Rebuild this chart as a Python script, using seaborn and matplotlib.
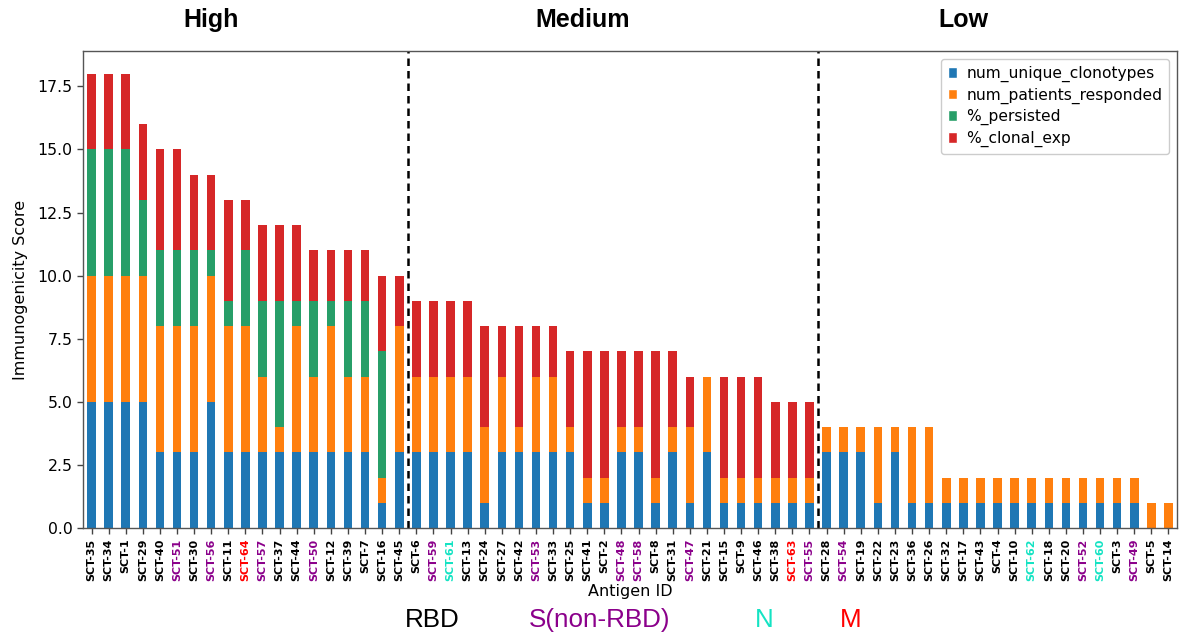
import numpy as np
import pandas as pd
import matplotlib
matplotlib.use("Agg")
import matplotlib.pyplot as plt
import seaborn as sns
from matplotlib.patches import Patch

antigen_ids = [
    "SCT-35", "SCT-34", "SCT-1", "SCT-29", "SCT-40", "SCT-51", "SCT-30", "SCT-56", "SCT-11", "SCT-64",
    "SCT-57", "SCT-37", "SCT-44", "SCT-50", "SCT-12", "SCT-39", "SCT-7", "SCT-16", "SCT-45",
    "SCT-6", "SCT-59", "SCT-61", "SCT-13", "SCT-24", "SCT-27", "SCT-42", "SCT-53", "SCT-33", "SCT-25",
    "SCT-41", "SCT-2", "SCT-48", "SCT-58", "SCT-8", "SCT-31", "SCT-47", "SCT-21", "SCT-15", "SCT-9",
    "SCT-46", "SCT-38", "SCT-63", "SCT-55",
    "SCT-28", "SCT-54", "SCT-19", "SCT-22", "SCT-23", "SCT-36", "SCT-26", "SCT-32", "SCT-17", "SCT-43",
    "SCT-4", "SCT-10", "SCT-62", "SCT-18", "SCT-20", "SCT-52", "SCT-60", "SCT-3", "SCT-49", "SCT-5", "SCT-14",
]

num_unique_clonotypes = [
    5, 5, 5, 5, 3, 3, 3, 5, 3, 3, 3, 3, 3, 3, 3, 3, 3, 1, 3,
    3, 3, 3, 3, 1, 3, 3, 3, 3, 3, 1, 1, 3, 3, 1, 3, 1, 3, 1, 1, 1, 1, 1, 1,
    3, 3, 3, 1, 3, 1, 1, 1, 1, 1, 1, 1, 1, 1, 1, 1, 1, 1, 1, 0, 0,
]
num_patients_responded = [
    5, 5, 5, 5, 5, 5, 5, 5, 5, 5, 3, 1, 5, 3, 5, 3, 3, 1, 5,
    3, 3, 3, 3, 3, 3, 1, 3, 3, 1, 1, 1, 1, 1, 1, 1, 3, 3, 1, 1, 1, 1, 1, 1,
    1, 1, 1, 3, 1, 3, 3, 1, 1, 1, 1, 1, 1, 1, 1, 1, 1, 1, 1, 1, 1,
]
pct_persisted = [
    5, 5, 5, 3, 3, 3, 3, 1, 1, 3, 3, 5, 1, 3, 1, 3, 3, 5, 0,
    0, 0, 0, 0, 0, 0, 0, 0, 0, 0, 0, 0, 0, 0, 0, 0, 0, 0, 0, 0, 0, 0, 0, 0,
    0, 0, 0, 0, 0, 0, 0, 0, 0, 0, 0, 0, 0, 0, 0, 0, 0, 0, 0, 0, 0,
]
pct_clonal_exp = [
    3, 3, 3, 3, 4, 4, 3, 3, 4, 2, 3, 3, 3, 2, 2, 2, 2, 3, 2,
    3, 3, 3, 3, 4, 2, 4, 2, 2, 3, 5, 5, 3, 3, 5, 3, 2, 0, 4, 4, 4, 3, 3, 3,
    0, 0, 0, 0, 0, 0, 0, 0, 0, 0, 0, 0, 0, 0, 0, 0, 0, 0, 0, 0, 0,
]

group_names = ["High", "Medium", "Low"]
group_sizes = [19, 24, 21]

s_ids = ["SCT-51", "SCT-56", "SCT-57", "SCT-50", "SCT-59", "SCT-53", "SCT-48", "SCT-58", "SCT-47",
         "SCT-55", "SCT-54", "SCT-52", "SCT-49"]
n_ids = ["SCT-61", "SCT-62", "SCT-60"]
m_ids = ["SCT-64", "SCT-63"]

series_names = ["num_unique_clonotypes", "num_patients_responded", "%_persisted", "%_clonal_exp"]
series_colors = ["#1f77b4", "#ff7f0e", "#279e68", "#d62728"]
color_s, color_n, color_m = "#8b008b", "#14e3c3", "#ff0000"

df = pd.DataFrame({
    "antigen": antigen_ids,
    series_names[0]: num_unique_clonotypes,
    series_names[1]: num_patients_responded,
    series_names[2]: pct_persisted,
    series_names[3]: pct_clonal_exp,
})
cum = df[series_names].cumsum(axis=1)

sns.set_style("ticks")
plt.rcParams["font.family"] = ["DejaVu Sans"]
plt.rcParams["text.color"] = "black"
plt.rcParams["axes.labelcolor"] = "black"
plt.rcParams["xtick.color"] = "black"
plt.rcParams["ytick.color"] = "black"

fig = plt.figure(figsize=(11.79, 6.36), dpi=100)
ax = fig.add_axes([83 / 1179, 1 - 528 / 636, (1177 - 83) / 1179, (528 - 51) / 636])

# stacked bars: draw cumulative totals from top layer down
for name, color in reversed(list(zip(series_names, series_colors))):
    sns.barplot(x=df["antigen"], y=cum[name], color=color, saturation=1, width=0.5,
                linewidth=0, ax=ax, order=antigen_ids)

ax.set_ylim(0, 18.9)
ax.set_xlim(-0.5, len(antigen_ids) - 0.5)
ax.set_yticks(np.arange(0, 18, 2.5))
ax.set_yticklabels([f"{v:.1f}" for v in np.arange(0, 18, 2.5)], fontsize=11.3)
ax.set_ylabel("Immunogenicity Score", fontsize=11.5, labelpad=7)
ax.set_xlabel("Antigen ID", fontsize=11.5, labelpad=2)
ax.tick_params(axis="x", labelrotation=90, labelsize=8)
ax.tick_params(axis="both", length=4, width=1, color="#444444")
for lab in ax.get_xticklabels():
    lab.set_fontweight("bold")
    t = lab.get_text()
    if t in s_ids:
        lab.set_color(color_s)
    elif t in n_ids:
        lab.set_color(color_n)
    elif t in m_ids:
        lab.set_color(color_m)
for sp in ax.spines.values():
    sp.set_color("#555555")
    sp.set_linewidth(1.0)

# group dividers and titles
bounds = np.cumsum(group_sizes)[:-1] - 0.5
for b in bounds:
    ax.axvline(b, color="black", linestyle="--", linewidth=1.8, dashes=(3, 2))
title_x = [7.0, 28.7, 51.0]
for name, xx in zip(group_names, title_x):
    ax.text(xx, 1.065, name, transform=ax.get_xaxis_transform(), ha="center", va="center",
            fontsize=18, fontweight="bold", color="black", family=["Liberation Sans", "DejaVu Sans"])

handles = [Patch(facecolor=c, label=n) for n, c in zip(series_names, series_colors)]
ax.legend(handles=handles, loc="upper right", fontsize=11.2, handlelength=0.6, handleheight=0.7,
          handletextpad=0.6, borderpad=0.45, labelspacing=0.35, framealpha=1, edgecolor="#cccccc")

# antigen category key
key_texts = ["RBD", "S(non-RBD)", "N", "M"]
key_colors = ["black", color_s, color_n, color_m]
key_x = [432, 600, 764, 851]
for t, c, xx in zip(key_texts, key_colors, key_x):
    fig.text(xx / 1179, 1 - 620 / 636, t, color=c, ha="center", va="center", fontsize=18.7,
             family=["Liberation Sans", "DejaVu Sans"])

fig.savefig("out.png", dpi=100)
